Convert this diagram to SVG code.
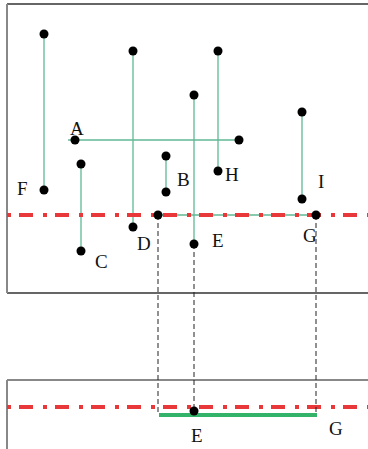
<svg xmlns="http://www.w3.org/2000/svg" width="368" height="449" viewBox="0 0 368 449">
<style>
.frame{fill:none;stroke:#333;stroke-width:1.5}
.gframe{fill:none;stroke:#888;stroke-width:2}
.g{stroke:#5fb994;stroke-width:1.3;fill:none}
.axis{stroke:#e8383a;stroke-width:4;stroke-dasharray:4 8 14 10;fill:none}
.proj{stroke:#222;stroke-width:1;stroke-dasharray:5 3;fill:none}
.dot{fill:#000}
text{font-family:"Liberation Serif","Times New Roman",serif;font-size:19px;fill:#111}
</style>
<rect width="368" height="449" fill="#fff"/>
<g id="frames">
<line class="frame" x1="7" y1="4" x2="368" y2="4"/>
<line class="frame" x1="7" y1="293" x2="368" y2="293"/>
<line class="gframe" x1="7" y1="4" x2="7" y2="293"/>
<line class="gframe" x1="7" y1="380" x2="368" y2="380"/>
<line class="gframe" x1="7" y1="380" x2="7" y2="449"/>
</g>
<g id="connectors">
<line class="g" x1="44" y1="34" x2="44" y2="190"/>
<line class="g" x1="133" y1="51" x2="133" y2="227"/>
<line class="g" x1="68" y1="140" x2="239" y2="140"/>
<line class="g" x1="81" y1="164" x2="81" y2="251"/>
<line class="g" x1="166" y1="156" x2="166" y2="192"/>
<line class="g" x1="194" y1="95" x2="194" y2="244"/>
<line class="g" x1="218" y1="51" x2="218" y2="171"/>
<line class="g" x1="302" y1="112" x2="302" y2="199"/>
<line class="g" x1="158" y1="215" x2="316" y2="215"/>
<line class="axis" x1="7" y1="215" x2="368" y2="215"/>
<line class="axis" x1="7" y1="407" x2="368" y2="407"/>
<line class="proj" x1="158" y1="215" x2="158" y2="415"/>
<line class="proj" x1="194" y1="244" x2="194" y2="411"/>
<line class="proj" x1="316" y1="215" x2="316" y2="415"/>
<line stroke="#33b36a" stroke-width="4" x1="159" y1="415" x2="317" y2="415"/>
</g>
<g id="nodes">
<g id="F"><circle class="dot" cx="44" cy="34" r="4.5"/><circle class="dot" cx="44" cy="190" r="4.5"/><text x="17" y="195">F</text></g>
<g id="D"><circle class="dot" cx="133" cy="51" r="4.5"/><circle class="dot" cx="133" cy="227" r="4.5"/><text x="137" y="250">D</text></g>
<g id="A"><circle class="dot" cx="75" cy="140" r="4.5"/><circle class="dot" cx="239" cy="140" r="4.5"/><text x="70" y="135">A</text></g>
<g id="C"><circle class="dot" cx="81" cy="164" r="4.5"/><circle class="dot" cx="81" cy="251" r="4.5"/><text x="95" y="268">C</text></g>
<g id="B"><circle class="dot" cx="166" cy="156" r="4.5"/><circle class="dot" cx="166" cy="192" r="4.5"/><text x="177" y="186">B</text></g>
<g id="E"><circle class="dot" cx="194" cy="95" r="4.5"/><circle class="dot" cx="194" cy="244" r="4.5"/><text x="212" y="247">E</text></g>
<g id="H"><circle class="dot" cx="218" cy="51" r="4.5"/><circle class="dot" cx="218" cy="171" r="4.5"/><text x="225" y="181">H</text></g>
<g id="I"><circle class="dot" cx="302" cy="112" r="4.5"/><circle class="dot" cx="302" cy="199" r="4.5"/><text x="318" y="188">I</text></g>
<g id="G"><circle class="dot" cx="316" cy="215" r="4.5"/><text x="303" y="242">G</text></g>
<g id="P"><circle class="dot" cx="158" cy="215" r="4.5"/></g>
<g id="E2"><circle class="dot" cx="194" cy="411" r="4.5"/><text x="191" y="442">E</text></g>
<g id="G2"><text x="329" y="435">G</text></g>
</g>
</svg>
